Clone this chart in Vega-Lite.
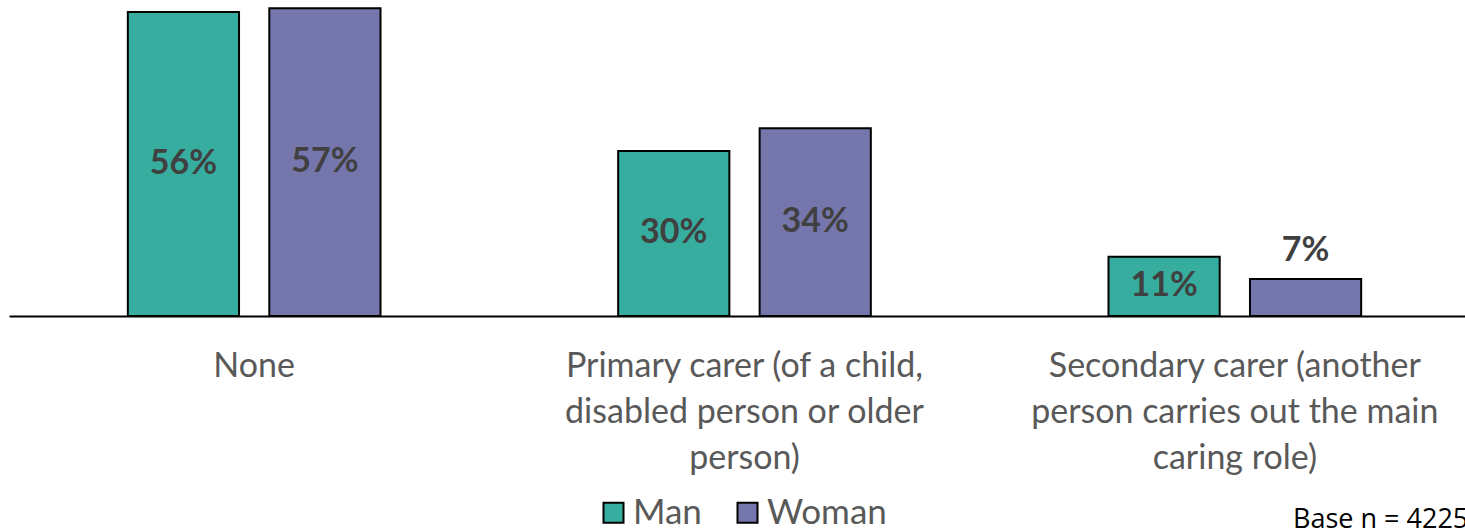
{
  "$schema": "https://vega.github.io/schema/vega-lite/v6.json",
  "autosize": {"type": "none"},
  "width": 1456,
  "height": 316,
  "padding": {"left": 9, "top": 0, "right": 0, "bottom": 215},
  "background": "white",
  "config": {"view": {"stroke": null}},
  "title": {"text": "Base n = 4225", "orient": "bottom", "anchor": "start", "fontSize": 27, "fontWeight": "normal", "color": "#000000", "font": "Open Sans", "dx": 1284, "offset": -24},
  "data": {
    "values": [
      {"category": "None", "gender": "Man", "value": 56.0, "label": "56%"},
      {"category": "None", "gender": "Woman", "value": 56.7, "label": "57%"},
      {"category": "Primary carer (of a child,|disabled person or older|person)", "gender": "Man", "value": 30.4, "label": "30%"},
      {"category": "Primary carer (of a child,|disabled person or older|person)", "gender": "Woman", "value": 34.6, "label": "34%"},
      {"category": "Secondary carer (another|person carries out the main|caring role)", "gender": "Man", "value": 10.9, "label": "11%"},
      {"category": "Secondary carer (another|person carries out the main|caring role)", "gender": "Woman", "value": 6.8, "label": "7%"}
    ]
  },
  "encoding": {
    "x": {
      "field": "category", "type": "nominal", "sort": null,
      "scale": {"range": [0, 1471], "paddingInner": 0, "paddingOuter": 0},
      "axis": {"title": null, "ticks": false, "labelAngle": 0, "labelExpr": "split(datum.label, '|')", "labelFontSize": 34, "labelFont": "Lato", "labelColor": "#595959", "labelLineHeight": 46, "labelPadding": 33, "domainColor": "#000000", "domainWidth": 2, "labelLimit": 600, "grid": false}
    },
    "xOffset": {"field": "gender", "type": "nominal", "scale": {"paddingInner": 0.214, "paddingOuter": 0.84}},
    "y": {"field": "value", "type": "quantitative", "scale": {"domain": [0, 58.2], "nice": false}, "axis": null}
  },
  "layer": [
    {
      "mark": {"type": "bar", "stroke": "#000000", "strokeWidth": 2},
      "encoding": {
        "color": {
          "field": "gender", "type": "nominal",
          "scale": {"domain": ["Man", "Woman"], "range": ["#37ad9f", "#7577ac"]},
          "legend": {"orient": "none", "legendX": 587, "legendY": 495, "direction": "horizontal", "title": null, "symbolType": "square", "symbolSize": 400, "symbolStrokeColor": "#000000", "symbolStrokeWidth": 2, "symbolOpacity": 1, "labelFontSize": 35, "labelFont": "Lato", "labelColor": "#595959", "columnPadding": 28, "labelOffset": 2}
        }
      }
    },
    {
      "transform": [{"calculate": "datum.value < 8 ? datum.value + 5.2 : datum.value / 2", "as": "labelPos"}],
      "mark": {"type": "text", "fontSize": 34, "fontWeight": "bold", "font": "Lato", "color": "#404040", "baseline": "middle"},
      "encoding": {
        "y": {"field": "labelPos", "type": "quantitative"},
        "text": {"field": "label"}
      }
    }
  ]
}
